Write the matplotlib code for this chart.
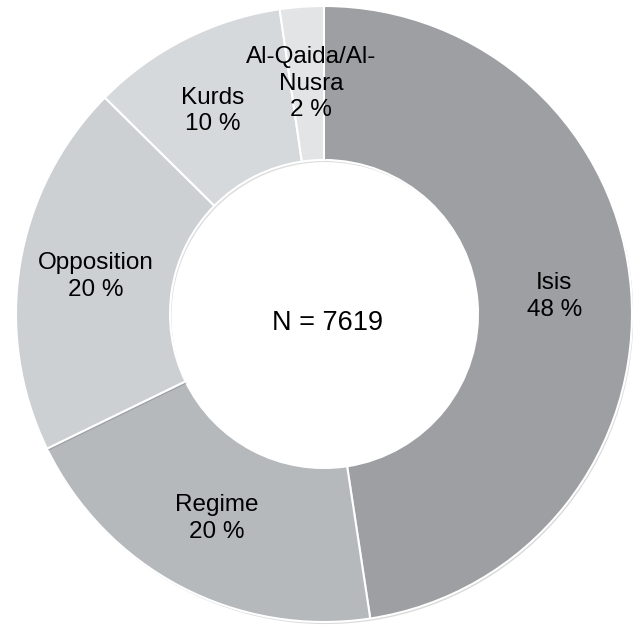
import matplotlib
matplotlib.use("Agg")
import matplotlib.pyplot as plt
import matplotlib.patheffects as pe

groups = ["Isis", "Regime", "Opposition", "Kurds", "Al-Qaida/Al-\nNusra"]
shares = [47.6, 20.2, 19.6, 10.3, 2.3]     # percent
colors = ["#9d9fa3", "#b5b9bc", "#ccd0d3", "#d6d9dc", "#e3e4e6"]
total_n = 7619

plt.rcParams["font.family"] = ["Liberation Sans", "DejaVu Sans"]

fig = plt.figure(figsize=(6.33, 6.28), dpi=100)
# donut centre ~ (324, 314) px, outer radius ~ 308 px
ax = fig.add_axes([16 / 633, 6 / 628, 616 / 633, 616 / 628])

labels = [f"{g}\n{round(s)} %" for g, s in zip(groups, shares)]
wedges, texts = ax.pie(
    shares, labels=labels, colors=colors, startangle=90, counterclock=False,
    radius=1.0, labeldistance=0.75,
    wedgeprops=dict(width=0.5, edgecolor="white", linewidth=1.5),
    textprops=dict(fontsize=17.5, color="black"),
)
for t in texts:
    t.set_ha("center")
    t.set_va("center")
    t.set_linespacing(1.27)
for w in wedges:
    w.set_path_effects([pe.SimplePatchShadow(offset=(1, -1.5), alpha=0.18),
                        pe.Normal()])

# small nudges so the two top labels don't collide
kx, ky = texts[3].get_position()
texts[3].set_position((kx - 0.022, ky - 0.01))
qx, qy = texts[4].get_position()
texts[4].set_position((qx + 0.012, qy))

ax.text(0.01, -0.03, f"N = {total_n}", ha="center", va="center", fontsize=19.5)

ax.set_xlim(-1, 1)
ax.set_ylim(-1, 1)
ax.set_aspect("equal")
ax.axis("off")

fig.savefig("out.png", dpi=100)
